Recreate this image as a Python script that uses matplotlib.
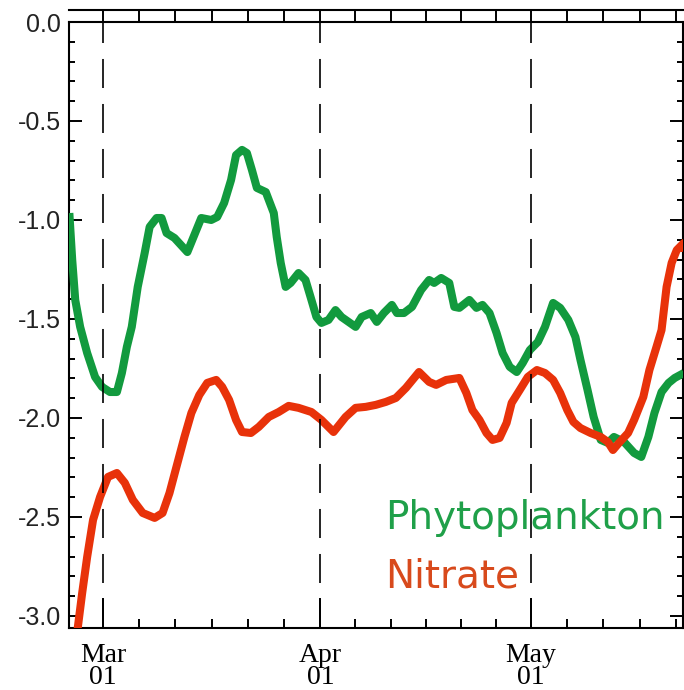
import matplotlib
matplotlib.use("Agg")
import matplotlib.pyplot as plt
import matplotlib.transforms as mtransforms

# ---- data (x = days since 01 Mar, y = log10 value) ----
phyto_days = [-4.8, -4.39, -3.96, -3.26, -2.26, -1.13, -0.14, 0.99, 1.98, 2.69, 3.40, 4.10,
              4.95, 5.94, 6.65, 7.64, 8.35, 9.06, 10.19, 12.03, 13.02, 14.01, 15.43, 16.28,
              17.27, 18.26, 18.97, 19.82, 20.52, 21.23, 21.94, 23.21, 23.64, 24.35, 24.77,
              25.34, 26.04, 26.75, 27.88, 28.87, 29.72, 30.43, 31.14, 32.15, 33.15, 34.01,
              36.02, 36.88, 38.18, 39.04, 40.04, 41.19, 41.91, 42.91, 44.06, 45.35, 46.50,
              47.22, 48.22, 49.37, 50.09, 50.81, 52.24, 53.25, 54.11, 55.11, 56.12, 56.98,
              57.99, 58.99, 59.85, 60.86, 62.01, 63.02, 64.18, 65.19, 66.35, 67.36, 68.08,
              69.09, 69.96, 70.97, 71.98, 72.85, 74.29, 75.73, 76.75, 77.76, 78.63, 79.64,
              80.65, 81.52, 82.82]
phyto_vals = [-0.965, -1.202, -1.404, -1.540, -1.672, -1.793, -1.843, -1.869, -1.869, -1.773,
              -1.641, -1.540, -1.338, -1.167, -1.035, -0.990, -0.990, -1.066, -1.091, -1.162,
              -1.076, -0.990, -1.000, -0.985, -0.914, -0.798, -0.672, -0.646, -0.662, -0.747,
              -0.838, -0.859, -0.899, -0.965, -1.086, -1.217, -1.338, -1.318, -1.268, -1.303,
              -1.404, -1.490, -1.520, -1.505, -1.455, -1.490, -1.540, -1.490, -1.470, -1.515,
              -1.470, -1.429, -1.470, -1.470, -1.439, -1.354, -1.303, -1.318, -1.293, -1.318,
              -1.439, -1.444, -1.404, -1.444, -1.429, -1.470, -1.571, -1.672, -1.742, -1.768,
              -1.722, -1.657, -1.616, -1.540, -1.419, -1.444, -1.505, -1.591, -1.707, -1.859,
              -1.995, -2.111, -2.126, -2.096, -2.121, -2.177, -2.197, -2.096, -1.975, -1.869,
              -1.823, -1.798, -1.773]

nitrate_days = [-3.82, -2.97, -2.26, -1.42, -0.42, 0.71, 1.98, 3.11, 4.25, 5.66, 7.36, 8.49,
                9.48, 10.47, 11.61, 12.60, 13.73, 14.86, 16.14, 16.99, 17.98, 18.97, 19.82,
                21.09, 22.22, 23.64, 25.05, 26.47, 27.88, 29.72, 31.14, 32.87, 34.59, 36.02,
                37.46, 38.89, 40.33, 41.76, 43.20, 45.06, 46.50, 47.50, 48.94, 50.81, 51.81,
                52.67, 53.68, 54.68, 55.54, 56.55, 57.55, 58.27, 59.42, 60.57, 61.87, 63.02,
                64.18, 65.19, 66.20, 67.07, 68.08, 69.53, 70.97, 71.98, 72.71, 73.57, 74.87,
                75.73, 77.04, 77.91, 78.92, 79.64, 80.36, 81.08, 81.81, 82.82, 83.11]
nitrate_vals = [-3.121, -2.884, -2.702, -2.515, -2.399, -2.298, -2.278, -2.328, -2.414, -2.480,
                -2.505, -2.480, -2.379, -2.247, -2.096, -1.975, -1.884, -1.823, -1.808, -1.843,
                -1.909, -2.010, -2.071, -2.076, -2.045, -1.995, -1.970, -1.939, -1.949, -1.970,
                -2.010, -2.071, -1.995, -1.949, -1.944, -1.934, -1.919, -1.899, -1.848, -1.768,
                -1.818, -1.833, -1.808, -1.798, -1.874, -1.960, -2.010, -2.076, -2.111, -2.101,
                -2.025, -1.924, -1.859, -1.793, -1.758, -1.773, -1.808, -1.874, -1.960, -2.020,
                -2.051, -2.076, -2.096, -2.121, -2.162, -2.126, -2.076, -2.010, -1.894, -1.758,
                -1.641, -1.556, -1.338, -1.217, -1.152, -1.116, -1.192]

month_ticks = [0, 31, 61]
month_lengths = [31, 30, 31]
month_labels = ["Mar", "Apr", "May"]
day_labels = ["01", "01", "01"]
y_ticks = [0.0, -0.5, -1.0, -1.5, -2.0, -2.5, -3.0]
y_labels = ["0.0", "-0.5", "-1.0", "-1.5", "-2.0", "-2.5", "-3.0"]
series_names = ["Phytoplankton", "Nitrate"]

GREEN = "#129a3e"
GREEN_TXT = "#1fa049"
RED = "#e8320a"
RED_TXT = "#d84a1c"

plt.rcParams['lines.scale_dashes'] = False

W, H = 684, 690
fig = plt.figure(figsize=(W / 100, H / 100), dpi=100)
L, R, T, B = 69, 683, 22, 628
ax = fig.add_axes([L / W, 1 - B / H, (R - L) / W, (B - T) / H])

XMIN, XMAX = -4.85, 82.7
YMIN, YMAX = -3.061, 0.0
ax.set_xlim(XMIN, XMAX)
ax.set_ylim(YMIN, YMAX)

ax.plot(phyto_days, phyto_vals, color=GREEN, lw=5.8, solid_joinstyle='round',
        solid_capstyle='butt', zorder=3)
ax.plot(nitrate_days, nitrate_vals, color=RED, lw=5.8, solid_joinstyle='round',
        solid_capstyle='butt', zorder=3)

for m in month_ticks:
    ax.axvline(m, color='black', lw=1.2, dashes=(20.9, 11.5), zorder=4)

# minor ticks: each month divided into six parts
minor = []
for start, length in zip(month_ticks, month_lengths):
    for k in range(1, 6):
        p = start + k * length / 6
        if XMIN < p < XMAX:
            minor.append(p)

ax.set_xticks(month_ticks)
ax.set_xticks(minor, minor=True)
ax.set_xticklabels([])
ax.tick_params(axis='x', which='major', direction='in', length=21.5, width=1.4,
               top=False, bottom=True)
ax.tick_params(axis='x', which='minor', direction='in', length=6.5, width=1.4,
               top=False, bottom=True)

ax.set_yticks(y_ticks)
ax.set_yticklabels(y_labels, fontfamily='Liberation Sans', fontsize=18, color='#222222')
ax.set_yticks([v / 10 for v in range(-30, 1)], minor=True)
ax.tick_params(axis='y', which='major', direction='in', length=9.5, width=1.4,
               left=True, right=True, pad=6)
ax.tick_params(axis='y', which='minor', direction='in', length=4.5, width=1.4,
               left=True, right=True)

for s in ax.spines.values():
    s.set_linewidth(1.5)

# top tick box (outward ticks + upper line)
trans = mtransforms.blended_transform_factory(ax.transData, ax.transAxes)
box_h = 12 / (B - T)
ax.vlines(month_ticks + minor, 1, 1 + box_h, transform=trans, color='black',
          lw=1.4, clip_on=False)
ax.plot([XMIN, XMAX], [1 + box_h, 1 + box_h], transform=trans, color='black',
        lw=1.5, clip_on=False)

# month / day labels (two tightly spaced lines)
for m, ml, dl in zip(month_ticks, month_labels, day_labels):
    ax.text(m, -15 / (B - T), ml + "\n" + dl, transform=trans, ha='center', va='top',
            multialignment='center', linespacing=0.82,
            fontfamily='Liberation Serif', fontsize=20, color='black')

# in-plot labels
ax.text((385 - L) / (R - L), (B - 529) / (B - T), series_names[0], transform=ax.transAxes,
        ha='left', va='baseline', fontfamily='DejaVu Sans', fontsize=28, color=GREEN_TXT,
        zorder=5)
ax.text((385 - L) / (R - L), (B - 587) / (B - T), series_names[1], transform=ax.transAxes,
        ha='left', va='baseline', fontfamily='DejaVu Sans', fontsize=28, color=RED_TXT,
        zorder=5)

fig.savefig("out.png", dpi=100)
